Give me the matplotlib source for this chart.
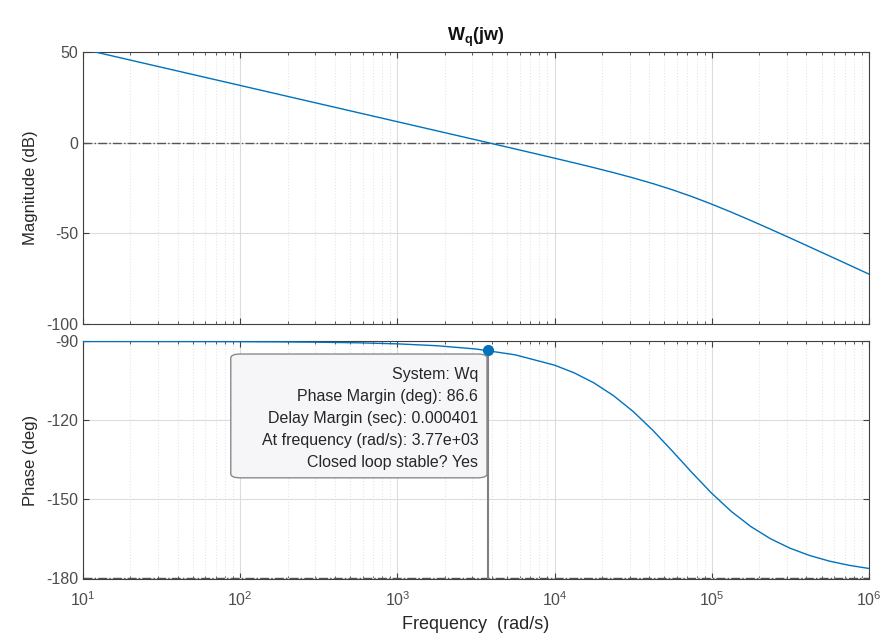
import numpy as np
import matplotlib
matplotlib.use("Agg")
import matplotlib.pyplot as plt
from matplotlib.ticker import LogLocator, NullFormatter, FixedLocator
from matplotlib.patches import FancyBboxPatch

plt.rcParams['font.family'] = ['Liberation Sans', 'DejaVu Sans']
plt.rcParams['axes.unicode_minus'] = False
plt.rcParams['mathtext.fontset'] = 'custom'
plt.rcParams['mathtext.rm'] = 'Liberation Sans'
plt.rcParams['mathtext.it'] = 'Liberation Sans:italic'
plt.rcParams['mathtext.bf'] = 'Liberation Sans:bold'

# ---- data ----
log_freq = [1.0, 1.25, 1.5, 1.75, 2.0, 2.25, 2.5, 2.75, 3.0, 3.25, 3.5, 3.75, 4.0,
            4.125, 4.25, 4.375, 4.5, 4.625, 4.75, 4.875, 5.0,
            5.125, 5.25, 5.375, 5.5, 5.625, 5.75, 5.875, 6.0]
magnitude_db = [51.54, 46.54, 41.54, 36.54, 31.54, 26.54, 21.54, 16.54, 11.54, 6.54, 1.53, -3.49, -8.57,
                -11.15, -13.79, -16.54, -19.44, -22.57, -26.01, -29.79, -33.93,
                -38.35, -42.99, -47.77, -52.64, -57.57, -62.53, -67.50, -72.49]
phase_deg = [-90.01, -90.02, -90.03, -90.05, -90.09, -90.16, -90.29, -90.51, -90.91, -91.62, -92.87, -95.10, -99.02,
             -101.95, -105.76, -110.63, -116.65, -123.80, -131.75, -139.96, -147.79,
             -154.71, -160.49, -165.12, -168.73, -171.50, -173.61, -175.20, -176.39]
pm_freq = 3.77e3
pm_phase = -93.4
datatip_lines = ["System: Wq", "Phase Margin (deg): 86.6", "Delay Margin (sec): 0.000401",
                 "At frequency (rad/s): 3.77e+03", "Closed loop stable? Yes"]
mag_ticks = [-100, -50, 0, 50]
phase_ticks = [-180, -150, -120, -90]

freq = [10 ** v for v in log_freq]

fig = plt.figure(figsize=(8.89, 6.4), dpi=100)
ax1 = fig.add_axes([0.0934, 0.4938, 0.884, 0.4250])
ax2 = fig.add_axes([0.0934, 0.0953, 0.884, 0.3720])

line_col = '#0072BD'
tick_col = '#4d4d4d'

for ax in (ax1, ax2):
    ax.set_xscale('log')
    ax.set_xlim(10, 1e6)
    ax.xaxis.set_major_locator(LogLocator(base=10, numticks=10))
    ax.xaxis.set_minor_locator(LogLocator(base=10, subs=np.arange(2, 10), numticks=100))
    ax.xaxis.set_minor_formatter(NullFormatter())
    ax.grid(True, which='major', color='#dcdcdc', linewidth=0.8, linestyle='-')
    ax.grid(True, which='minor', axis='x', color='#e6e6e6', linewidth=0.8, linestyle=':')
    ax.tick_params(which='both', direction='in', top=True, right=True, colors='#404040',
                   labelsize=11.5, labelcolor=tick_col)
    ax.tick_params(which='major', length=4)
    ax.tick_params(which='minor', length=2.5)
    for s in ax.spines.values():
        s.set_color('#404040')
        s.set_linewidth(0.8)
    ax.set_axisbelow(True)

# magnitude
ax1.plot(freq, magnitude_db, color=line_col, linewidth=1.0, zorder=3)
ax1.axhline(0, color='#555555', linestyle='-.', linewidth=1.0, zorder=2)
ax1.set_ylim(-100, 50)
ax1.yaxis.set_major_locator(FixedLocator(mag_ticks))
ax1.tick_params(axis='x', labelbottom=False)
ax1.set_ylabel('Magnitude (dB)', fontsize=12, color='#262626', labelpad=6)
ax1.set_title(r'$\mathbf{W_q(jw)}$', fontsize=13, color='#111111', pad=8)

# phase
ax2.plot(freq, phase_deg, color=line_col, linewidth=1.0, zorder=3)
ax2.axhline(-180, color='#555555', linestyle='-.', linewidth=1.0, zorder=2)
ax2.set_ylim(-180.4, -89.8)
ax2.yaxis.set_major_locator(FixedLocator(phase_ticks))
ax2.tick_params(axis='x', which='major', pad=8)
ax2.set_ylabel('Phase (deg)', fontsize=12, color='#262626', labelpad=6)
ax2.set_xlabel('Frequency  (rad/s)', fontsize=13, color='#262626', labelpad=5)

# phase margin marker and drop line
ax2.plot([pm_freq, pm_freq], [-180.4, pm_phase], color='#808080', linewidth=1.5, zorder=4)
ax2.plot([pm_freq], [pm_phase], 'o', color=line_col, markersize=7, zorder=6)

# datatip box (in axes coordinates)
box = FancyBboxPatch((0.188, 0.425), 0.326, 0.52, transform=ax2.transAxes,
                     boxstyle='round,pad=0,rounding_size=0.012',
                     facecolor='#f6f6f9', edgecolor='#8a8a8a', linewidth=1.0,
                     zorder=5, mutation_aspect=1.4)
ax2.add_patch(box)
y0 = 0.86
for i, t in enumerate(datatip_lines):
    ax2.text(0.503, y0 - i * 0.0925, t, transform=ax2.transAxes, ha='right', va='center',
             fontsize=11.5, color='#262626', zorder=7)

fig.savefig('out.png', dpi=100)
